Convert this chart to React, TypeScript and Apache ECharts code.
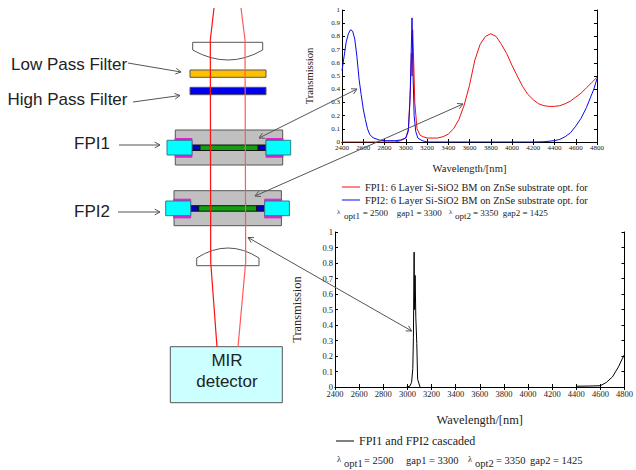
import React, { useEffect, useRef } from "react";
import * as echarts from "echarts";

const wavelengthTicks = { min: 2400, max: 4800, step: 200 };
const redName = "FPI1: 6 Layer Si-SiO2 BM on ZnSe substrate opt. for";
const blueName = "FPI2: 6 Layer Si-SiO2 BM on ZnSe substrate opt. for";
const blackName = "FPI1 and FPI2 cascaded";

const redSeries = [[2400,0],[2900,0],[2950,0.01],[3000,0.03],[3025,0.1],[3044,0.4],[3053,0.67],[3059,0.5],[3065,0.85],[3075,0.6],[3085,0.3],[3106,0.1],[3137,0.05],[3165,0.04],[3200,0.03],[3300,0.03],[3350,0.04],[3400,0.06],[3450,0.1],[3500,0.17],[3550,0.28],[3600,0.43],[3650,0.62],[3700,0.74],[3750,0.8],[3800,0.82],[3850,0.8],[3900,0.74],[3950,0.67],[4000,0.58],[4050,0.5],[4100,0.42],[4150,0.36],[4200,0.32],[4250,0.29],[4300,0.275],[4350,0.27],[4400,0.27],[4450,0.275],[4500,0.29],[4550,0.31],[4600,0.34],[4650,0.37],[4700,0.41],[4750,0.45],[4800,0.49]];
const blueSeries = [[2400,0.54],[2420,0.65],[2440,0.76],[2460,0.82],[2480,0.85],[2500,0.84],[2520,0.78],[2540,0.65],[2560,0.48],[2580,0.36],[2600,0.25],[2620,0.17],[2640,0.1],[2660,0.06],[2680,0.04],[2700,0.03],[2750,0.015],[2800,0.01],[2900,0.01],[2950,0.015],[3000,0.03],[3024,0.08],[3039,0.3],[3049,0.6],[3059,0.94],[3069,0.5],[3079,0.2],[3094,0.08],[3114,0.03],[3154,0.01],[3200,0],[4200,0],[4300,0.002],[4400,0.01],[4450,0.02],[4500,0.04],[4550,0.07],[4600,0.12],[4650,0.18],[4700,0.26],[4740,0.34],[4770,0.4],[4800,0.48]];
const blackSeries = [[2995,0],[3020,0.005],[3035,0.03],[3045,0.12],[3050,0.32],[3056,0.87],[3059,0.5],[3064,0.72],[3070,0.45],[3078,0.28],[3085,0.05],[3105,0],[null,null],[4400,0.005],[4500,0.006],[4600,0.008],[4650,0.03],[4700,0.065],[4750,0.13],[4780,0.18],[4800,0.21]];

const LENS_TOP = "M192.7 42.3 L262.7 42.3 L262.7 50 Q228 70 192.7 50 Z";
const LENS_BOTTOM = "M196.7 265.7 L259 265.7 L259 258 Q228 238 196.7 258 Z";
echarts.graphic.registerShape("lensTop", echarts.graphic.extendPath(LENS_TOP, {}));
echarts.graphic.registerShape("lensBottom", echarts.graphic.extendPath(LENS_BOTTOM, {}));

const GREY = "#555";
const SERIF = "'Liberation Serif', serif";
const SANS = "'Liberation Sans', sans-serif";

function box(x: number, y: number, w: number, h: number, fill: string, stroke = GREY, lw = 1, z = 5) {
  return { type: "rect", shape: { x, y, width: w, height: h }, style: { fill, stroke, lineWidth: lw }, z, silent: true };
}
function label(text: string, x: number, y: number, size: number, font = SANS, fill = "#222", align = "left") {
  return { type: "text", x, y, z: 12, silent: true, style: { text, font: `${size}px ${font}`, fill, align, verticalAlign: "middle" } };
}
function head(x0: number, y0: number, x1: number, y1: number) {
  const a = Math.atan2(y1 - y0, x1 - x0);
  const l = 6;
  const p = (d: number) => [x1 - l * Math.cos(a + d), y1 - l * Math.sin(a + d)];
  return { type: "polyline", z: 11, silent: true, shape: { points: [p(0.5), [x1, y1], p(-0.5)] }, style: { stroke: GREY, lineWidth: 1, fill: "none" } };
}
function arrow(x0: number, y0: number, x1: number, y1: number, both = false) {
  const out: any[] = [
    { type: "line", z: 11, silent: true, shape: { x1: x0, y1: y0, x2: x1, y2: y1 }, style: { stroke: GREY, lineWidth: 1 } },
    head(x0, y0, x1, y1),
  ];
  if (both) out.push(head(x1, y1, x0, y0));
  return out;
}
function fpi(dx: number, dy: number) {
  return [
    box(175.3 + dx, 130 + dy, 107.4, 35, "#c0c0c0", GREY, 1),
    box(175 + dx, 138.5 + dy, 17, 18.7, "#e020d0", "#e020d0", 1, 6),
    box(266 + dx, 138.5 + dy, 17, 18.7, "#e020d0", "#e020d0", 1, 6),
    box(167 + dx, 140.3 + dy, 25, 14.7, "#00ffff", "#2a7f8f", 1, 7),
    box(266 + dx, 140.3 + dy, 24.7, 14.7, "#00ffff", "#2a7f8f", 1, 7),
    box(192 + dx, 145 + dy, 8, 5.5, "#0000c0", "#111", 1, 6),
    box(258 + dx, 145 + dy, 8, 5.5, "#0000c0", "#111", 1, 6),
    box(200 + dx, 145 + dy, 58, 5.5, "#10a010", "#111", 1, 6),
  ];
}
function optLine(y: number, xs: number[], size: number) {
  return [
    label("λ", xs[0], y - 1, size - 2, SERIF),
    label("opt1", xs[1], y + 3, size, SERIF),
    label("= 2500", xs[2], y, size, SERIF),
    label("gap1 = 3300", xs[3], y, size, SERIF),
    label("λ", xs[4], y - 1, size - 2, SERIF),
    label("opt2", xs[5], y + 3, size, SERIF),
    label("= 3350", xs[6], y, size, SERIF),
    label("gap2 = 1425", xs[7], y, size, SERIF),
  ];
}

const rays = [
  { points: [[214, 8], [210.3, 40], [210.7, 262], [217, 347]], color: "#ff1010" },
  { points: [[241, 8], [245, 40], [245.7, 262], [238, 347]], color: "#ff5a5a" },
];

function axisPair(grid: number, fontSize: number, nameSize: number, nameGapX: number, nameGapY: number) {
  const line = { show: true, lineStyle: { color: "#000", width: 1 } };
  const tick = { show: true, inside: true, length: 3, lineStyle: { color: "#000" } };
  const font = { color: "#222", fontFamily: SERIF, fontSize };
  const xBase = { type: "value", gridIndex: grid, min: wavelengthTicks.min, max: wavelengthTicks.max, interval: wavelengthTicks.step, splitLine: { show: false }, axisLine: line, axisTick: tick };
  const yBase = { type: "value", gridIndex: grid, min: 0, max: 1, interval: 0.1, splitLine: { show: false }, axisLine: line, axisTick: tick };
  return {
    x: [
      { ...xBase, position: "bottom", axisLabel: { ...font, margin: 2, hideOverlap: false, formatter: (v: number) => String(v) }, name: "Wavelength/[nm]", nameLocation: "middle", nameGap: nameGapX, nameTextStyle: { color: "#222", fontFamily: SERIF, fontSize: nameSize } },
      { ...xBase, position: "top", axisLabel: { show: false } },
    ],
    y: [
      { ...yBase, position: "left", axisLabel: { ...font, margin: 2, hideOverlap: false }, name: "Transmission", nameLocation: "middle", nameGap: nameGapY, nameTextStyle: { color: "#222", fontFamily: SERIF, fontSize: nameSize } },
      { ...yBase, position: "right", axisLabel: { show: false } },
    ],
  };
}

export default function App() {
  const ref = useRef<HTMLDivElement>(null);
  useEffect(() => {
    const chart = echarts.init(ref.current!, null, { renderer: "svg" });
    const a = axisPair(0, 7, 10.6, 21, 27);
    const b = axisPair(1, 8.5, 12.4, 27, 32);
    const lineSeries = (name: string, data: any[], color: string, xi: number, yi: number) => ({
      type: "line", name, data, xAxisIndex: xi, yAxisIndex: yi, showSymbol: false, symbol: "none",
      connectNulls: false, lineStyle: { color, width: 1 }, itemStyle: { color }, z: 3,
    });
    const legendBase = { orient: "vertical", icon: "rect", itemWidth: 18, itemHeight: 1, itemGap: 0, padding: 0 };
    chart.setOption({
      animation: false,
      backgroundColor: "#fff",
      grid: [
        { left: 342, top: 10, width: 255, height: 132 },
        { left: 335, top: 232, width: 290, height: 155 },
      ],
      xAxis: [...a.x, ...b.x],
      yAxis: [...a.y, ...b.y],
      legend: [
        { ...legendBase, left: 342, top: 182, itemGap: 3, textStyle: { fontFamily: SERIF, fontSize: 10.4, color: "#222", lineHeight: 10 }, data: [redName, blueName] },
        { ...legendBase, left: 336, top: 435, textStyle: { fontFamily: SERIF, fontSize: 12, color: "#222" }, data: [blackName] },
      ],
      series: [
        lineSeries(redName, redSeries, "#f01010", 0, 0),
        lineSeries(blueName, blueSeries, "#0808f0", 0, 0),
        lineSeries(blackName, blackSeries, "#000", 2, 2),
      ],
      graphic: {
        elements: [
          { type: "lensTop", x: 0, y: 0, z: 5, silent: true, style: { fill: "#fff", stroke: GREY, lineWidth: 1 } },
          { type: "lensBottom", x: 0, y: 0, z: 5, silent: true, style: { fill: "#fff", stroke: GREY, lineWidth: 1 } },
          box(190, 70, 76, 7.3, "#ffc000"),
          box(190, 87.3, 76, 7.4, "#0000f0"),
          ...fpi(0, 0),
          ...fpi(-1.3, 60.7),
          box(170.3, 346.7, 112, 56, "#ccffff"),
          ...rays.map((r) => ({ type: "polyline", z: 9, silent: true, shape: { points: r.points }, style: { stroke: r.color, lineWidth: 1.2, fill: "none" } })),
          label("Low Pass Filter", 11, 64, 17),
          label("High Pass Filter", 7.5, 99, 17),
          label("FPI1", 74, 143, 17),
          label("FPI2", 74, 211, 17),
          label("MIR", 227, 360, 17, SANS, "#222", "center"),
          label("detector", 227, 381, 17, SANS, "#222", "center"),
          ...arrow(128, 63, 181, 72),
          ...arrow(133, 102, 180, 95.5),
          ...arrow(119, 145, 160, 145),
          ...arrow(118, 212, 160, 212),
          ...arrow(259, 138, 357, 89, true),
          ...arrow(255, 196, 463, 104, true),
          ...arrow(248, 237.5, 411.7, 331, true),
          ...optLine(213, [337, 344, 362.7, 396.7, 449, 455, 473, 502.7], 9),
          ...optLine(460, [337, 344, 364, 406, 468, 475, 496, 530], 10.5),
        ],
      },
    });
    return () => chart.dispose();
  }, []);
  return <div ref={ref} style={{ position: "fixed", left: 0, top: 0, width: 636, height: 470 }} />;
}
